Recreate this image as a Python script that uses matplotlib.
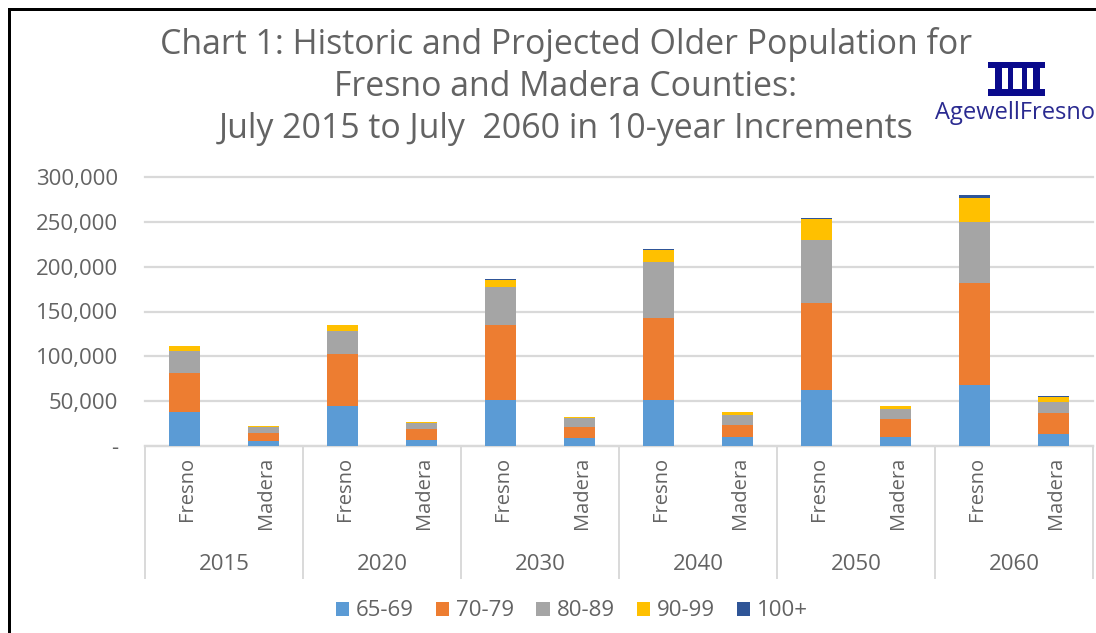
import matplotlib
matplotlib.use("Agg")
import matplotlib.pyplot as plt
import numpy as np
from matplotlib.patches import Rectangle
from matplotlib.ticker import FuncFormatter
from matplotlib.transforms import ScaledTranslation

plt.rcParams['font.family'] = ['Open Sans', 'DejaVu Sans']

W, H = 1096, 633
TEXT = '#636363'
LINE = '#d9d9d9'

years = ['2015', '2020', '2030', '2040', '2050', '2060']
counties = ['Fresno', 'Madera'] * 6
age_groups = ['65-69', '70-79', '80-89', '90-99', '100+']
colors = ['#5b9bd5', '#ed7d31', '#a5a5a5', '#ffc000', '#2f5597']

age_65_69 = [38000, 5500, 44500, 7000, 51000, 8500, 51000, 9500, 62000, 10000, 68000, 13500]
age_70_79 = [43000, 9000, 58000, 11500, 84000, 12500, 92000, 14000, 98000, 20000, 113500, 23000]
age_80_89 = [25000, 6500, 25500, 7000, 42000, 10000, 62000, 11500, 70000, 11000, 68000, 12500]
age_90_99 = [5000, 800, 6500, 800, 8000, 1300, 14000, 2700, 23500, 3500, 27500, 5500]
age_100 = [800, 500, 800, 500, 800, 500, 800, 500, 1000, 500, 2500, 1000]
series = [age_65_69, age_70_79, age_80_89, age_90_99, age_100]

fig = plt.figure(figsize=(W / 100, H / 100), dpi=100)
ax = fig.add_axes([145 / W, 1 - 446 / H, 948 / W, 269 / H])


# pixel position in the reference -> figure fraction
def px(x, y):
    return x / W, 1 - y / H


x = np.arange(len(counties))
bottom = np.zeros(len(counties))
for name, vals, color in zip(age_groups, series, colors):
    ax.bar(x, vals, 0.4, bottom=bottom, color=color, label=name, zorder=3)
    bottom += np.array(vals)

ax.set_xlim(-0.5, len(counties) - 0.5)
ax.set_ylim(0, 300000)
ax.set_yticks(range(0, 300001, 50000))
ax.yaxis.set_major_formatter(FuncFormatter(lambda v, p: f'{int(v):,}' if v else '-'))
ax.tick_params(axis='y', length=0, labelsize=16, labelcolor=TEXT, pad=19.5)
ax.grid(axis='y', color=LINE, linewidth=1.6, zorder=0)
for g in ax.get_ygridlines():
    g.set_clip_on(False)
for s in ['top', 'right', 'left']:
    ax.spines[s].set_visible(False)
ax.spines['bottom'].set_color(LINE)
ax.spines['bottom'].set_linewidth(1.6)

ax.set_xticks(x)
ax.set_xticklabels(counties, rotation=90, fontsize=14.5, color=TEXT)
ax.tick_params(axis='x', length=0, pad=8)
for lab in ax.get_xticklabels():
    lab.set_transform(lab.get_transform() + ScaledTranslation(2 / 72, 0, fig.dpi_scale_trans))

# two level category axis
trans = ax.get_xaxis_transform()
for k in range(len(years) + 1):
    ax.plot([2 * k - 0.5] * 2, [0, -132 / 269], transform=trans, color=LINE,
            linewidth=1.4, clip_on=False)
for k, year in enumerate(years):
    ax.text(2 * k + 0.5, -118 / 269, year, transform=trans, ha='center', va='center',
            fontsize=16, color=TEXT)

fig.legend(*ax.get_legend_handles_labels(), loc='center', bbox_to_anchor=px(572, 611), ncol=5,
           frameon=False, fontsize=16, labelcolor=TEXT, handlelength=0.6, handleheight=0.6,
           handletextpad=0.3, columnspacing=1.0)

# title
title_lines = ['Chart 1: Historic and Projected Older Population for',
               'Fresno and Madera Counties:',
               'July 2015 to July  2060 in 10-year Increments']
title_pos = [(566, 44), (566, 87), (566, 129)]
for line, (tx, ty) in zip(title_lines, title_pos):
    fig.text(*px(tx, ty), line, ha='center', va='center', fontsize=24.4, color=TEXT)

# logo
LOGO = '#0a0a8c'
logo_rects = [(988, 62, 57, 6), (995, 68, 7, 21), (1008, 68, 5, 21), (1022, 68, 5, 21),
              (1033, 68, 7, 21), (988, 89, 57, 7)]
for rx, ry, rw, rh in logo_rects:
    fig.add_artist(Rectangle(px(rx, ry + rh), rw / W, rh / H, transform=fig.transFigure,
                             color=LOGO, linewidth=0))
fig.text(*px(935, 113), 'AgewellFresno', ha='left', va='center', fontsize=17, color='#2a2a90')

# black frame of the screenshot
fig.add_artist(Rectangle(px(8, 11), (W - 8) / W, 3 / H, transform=fig.transFigure, color='black', linewidth=0))
fig.add_artist(Rectangle(px(8, H), 3 / W, (H - 8) / H, transform=fig.transFigure, color='black', linewidth=0))

fig.savefig('out.png', dpi=100)
